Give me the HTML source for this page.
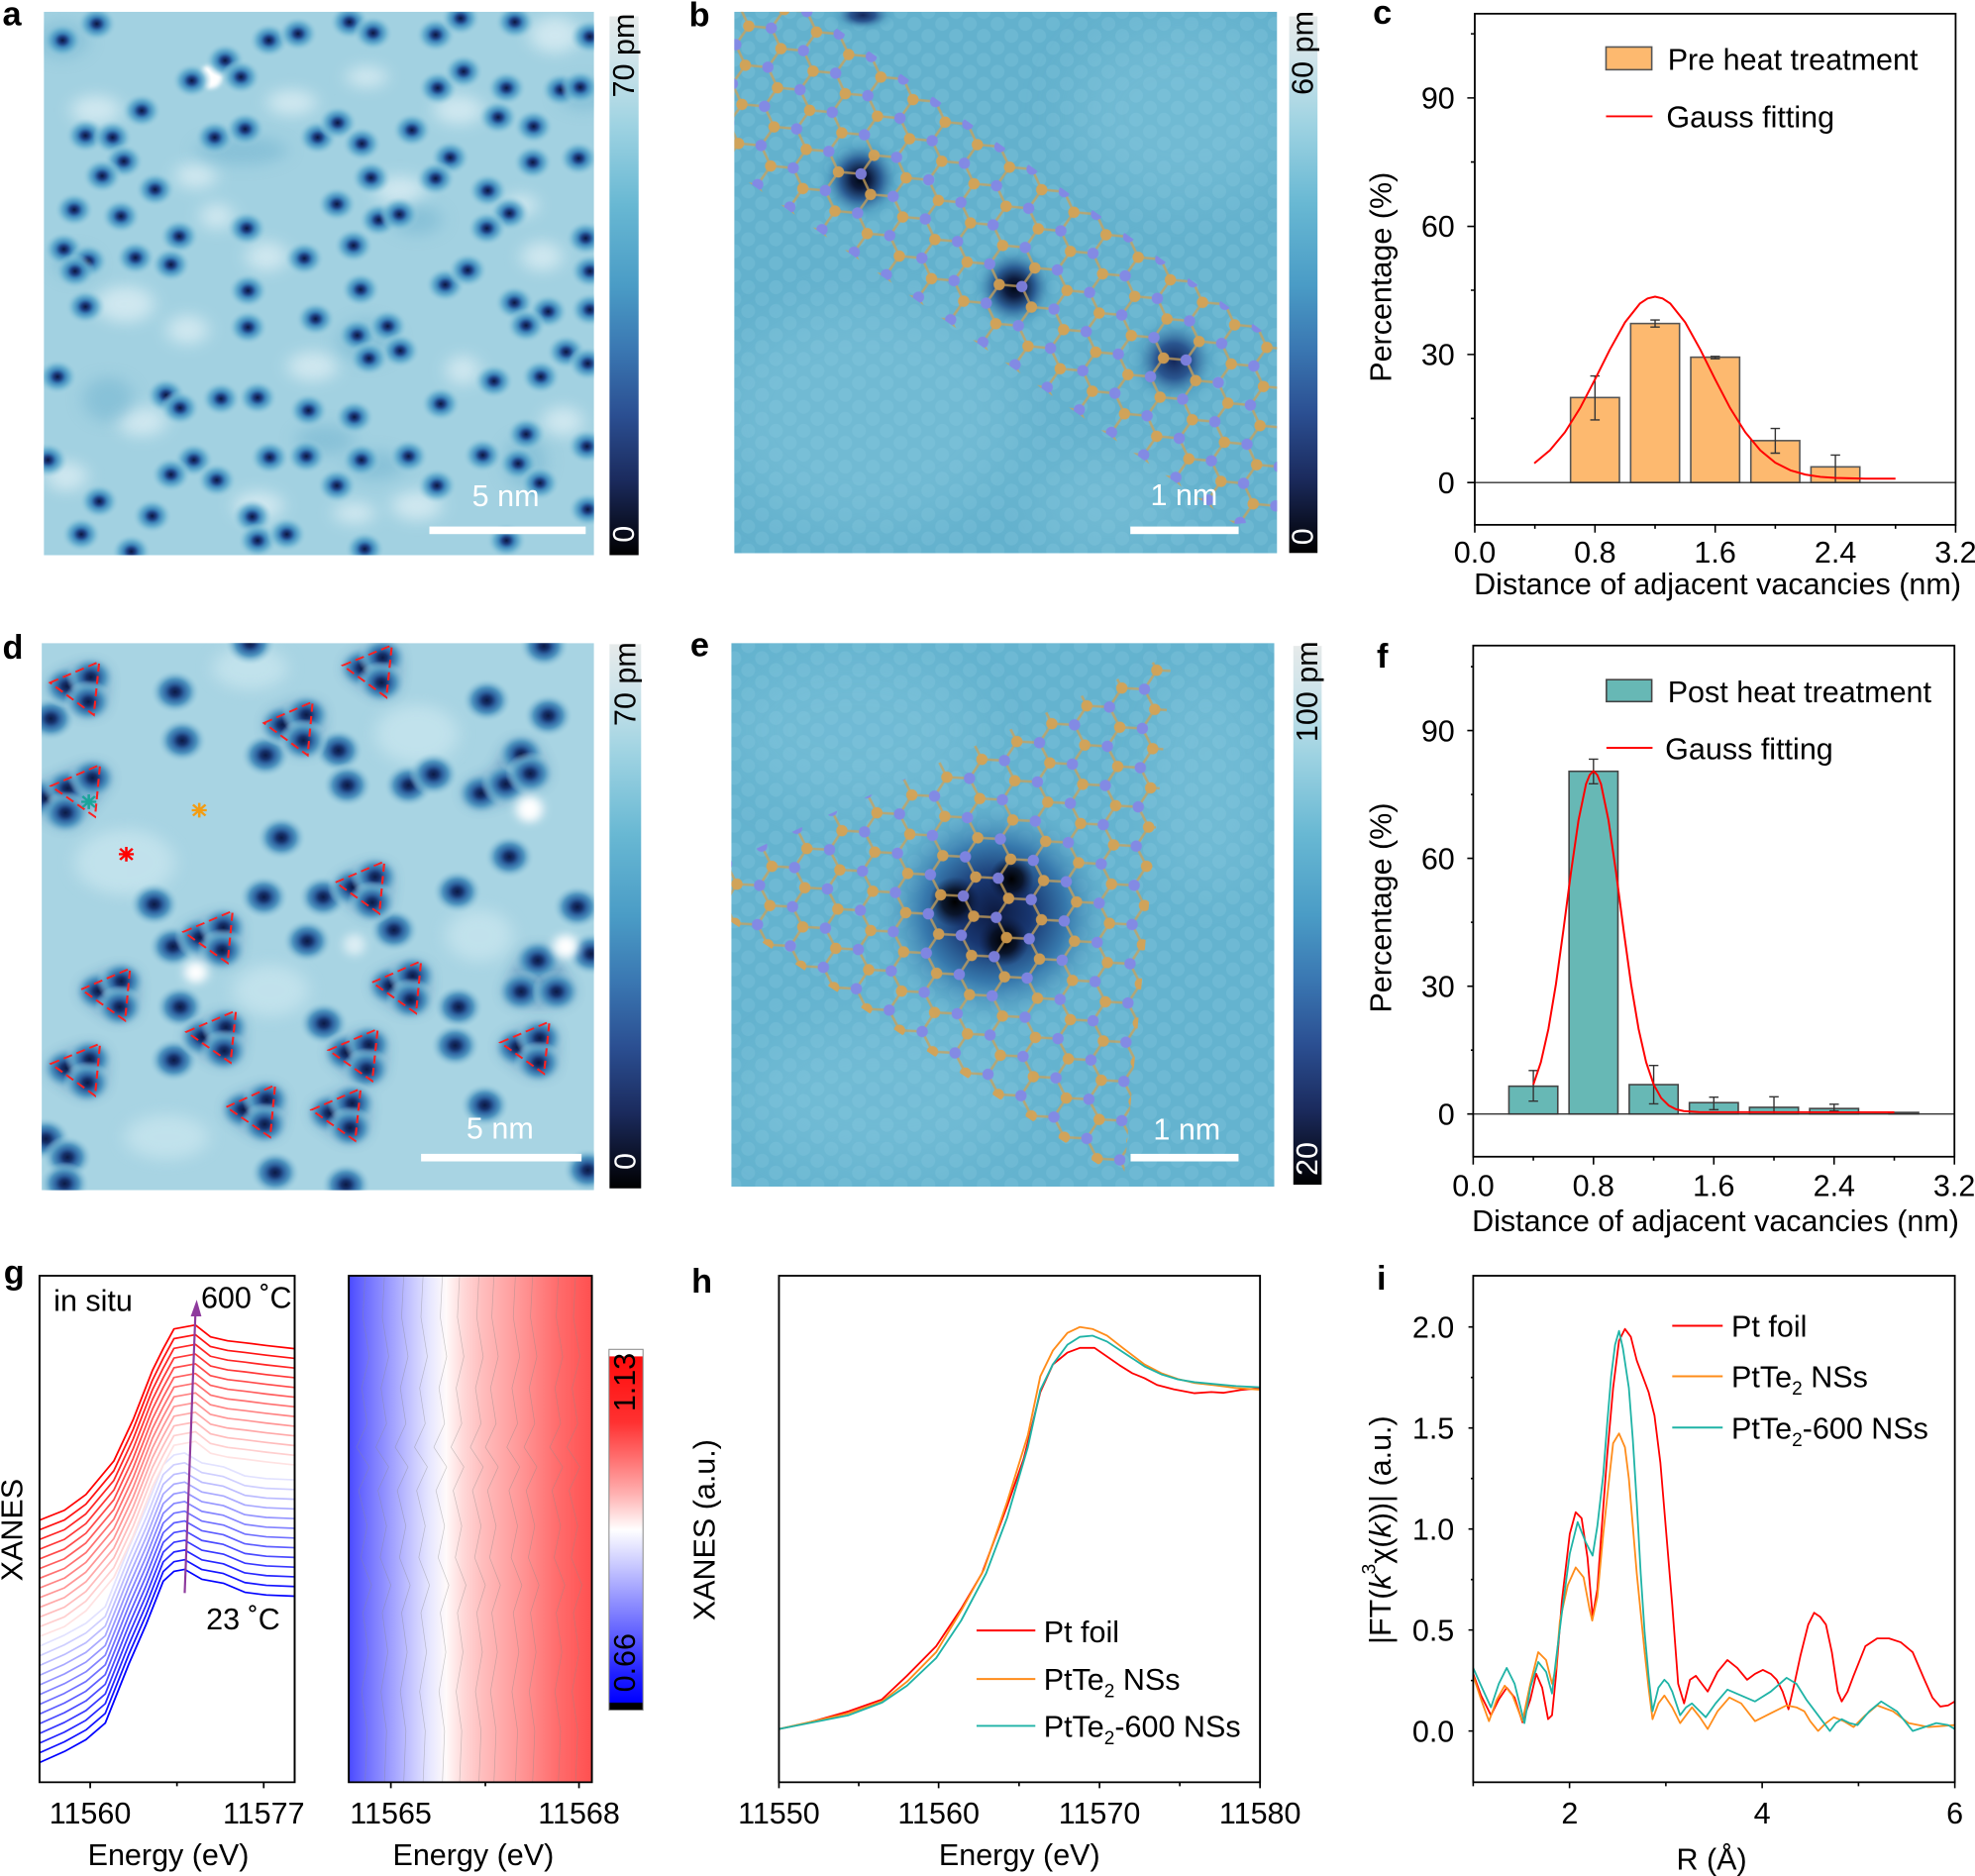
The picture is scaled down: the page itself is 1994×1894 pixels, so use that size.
<!DOCTYPE html>
<html><head><meta charset="utf-8"><style>
html,body{margin:0;padding:0;background:#fff}
svg{display:block}
.t{font-size:24px;fill:#000}
.w{font-size:24px;fill:#fff}
.L{font-size:27px;font-weight:bold;fill:#000}
</style></head><body>
<svg xmlns="http://www.w3.org/2000/svg" width="1994" height="1894" viewBox="0 0 1568 1489.3" preserveAspectRatio="none" font-family="'Liberation Sans', Arial, sans-serif">
<defs>
<filter id="bl20" x="-20%" y="-20%" width="140%" height="140%"><feGaussianBlur stdDeviation="20"/></filter>
<filter id="bl12" x="-30%" y="-30%" width="160%" height="160%"><feGaussianBlur stdDeviation="12"/></filter>
<filter id="bl6" x="-30%" y="-30%" width="160%" height="160%"><feGaussianBlur stdDeviation="6"/></filter>
<radialGradient id="ga"><stop offset="0" stop-color="#0b1640"/><stop offset="0.2" stop-color="#1d3f82"/><stop offset="0.38" stop-color="#3b82b8"/><stop offset="0.62" stop-color="#5eaacd" stop-opacity="0.8"/><stop offset="1" stop-color="#a3d2e2" stop-opacity="0"/></radialGradient>
<radialGradient id="gd"><stop offset="0" stop-color="#0b1a45"/><stop offset="0.18" stop-color="#15306a"/><stop offset="0.36" stop-color="#2d63a0"/><stop offset="0.58" stop-color="#4f95c0"/><stop offset="0.8" stop-color="#7fb9d4" stop-opacity="0.5"/><stop offset="1" stop-color="#a8d4e3" stop-opacity="0"/></radialGradient>
<radialGradient id="gb"><stop offset="0" stop-color="#000814"/><stop offset="0.2" stop-color="#0c1a3c"/><stop offset="0.45" stop-color="#2a5c93"/><stop offset="0.75" stop-color="#4d9cc0" stop-opacity="0.5"/><stop offset="1" stop-color="#63b1cd" stop-opacity="0"/></radialGradient>
<radialGradient id="gb2"><stop offset="0" stop-color="#14275a"/><stop offset="0.35" stop-color="#2a5690"/><stop offset="0.7" stop-color="#4d9cc0" stop-opacity="0.5"/><stop offset="1" stop-color="#63b1cd" stop-opacity="0"/></radialGradient>
<radialGradient id="ge"><stop offset="0" stop-color="#0d1a40"/><stop offset="0.3" stop-color="#183670"/><stop offset="0.6" stop-color="#3779ad"/><stop offset="1" stop-color="#64b2ce" stop-opacity="0"/></radialGradient>
<radialGradient id="gk"><stop offset="0" stop-color="#000"/><stop offset="0.5" stop-color="#050a18" stop-opacity="0.8"/><stop offset="1" stop-color="#0d1a40" stop-opacity="0"/></radialGradient>
<linearGradient id="cbar" x1="0" y1="0" x2="0" y2="1">
<stop offset="0" stop-color="#e6eaea"/><stop offset="0.08" stop-color="#cfe4ea"/><stop offset="0.2" stop-color="#9fd3e2"/><stop offset="0.35" stop-color="#68b8d3"/><stop offset="0.5" stop-color="#4a9cc6"/><stop offset="0.62" stop-color="#3a77b2"/><stop offset="0.74" stop-color="#2b4f92"/><stop offset="0.86" stop-color="#1b2b5e"/><stop offset="0.95" stop-color="#0a0f22"/><stop offset="1" stop-color="#000"/></linearGradient>
<linearGradient id="cmap" x1="0" y1="0" x2="1" y2="0">
<stop offset="0" stop-color="#4a4aff"/><stop offset="0.06" stop-color="#6a6aff"/><stop offset="0.155" stop-color="#9595ff"/><stop offset="0.24" stop-color="#bebeff"/><stop offset="0.33" stop-color="#e6e6ff"/><stop offset="0.4" stop-color="#fffafa"/><stop offset="0.47" stop-color="#ffd8d8"/><stop offset="0.55" stop-color="#ffbdbd"/><stop offset="0.69" stop-color="#ff9b9b"/><stop offset="0.86" stop-color="#ff6c6c"/><stop offset="1" stop-color="#ff5050"/></linearGradient>
<linearGradient id="cb2" x1="0" y1="0" x2="0" y2="1">
<stop offset="0" stop-color="#fff"/><stop offset="0.018" stop-color="#fff"/><stop offset="0.021" stop-color="#ff0c0c"/><stop offset="0.2" stop-color="#ff3030"/><stop offset="0.3" stop-color="#ff6e6e"/><stop offset="0.4" stop-color="#ffb0b0"/><stop offset="0.5" stop-color="#fff"/><stop offset="0.6" stop-color="#c8c8ff"/><stop offset="0.7" stop-color="#9090ff"/><stop offset="0.8" stop-color="#5a5aff"/><stop offset="0.9" stop-color="#2020ff"/><stop offset="0.978" stop-color="#0000ff"/><stop offset="0.981" stop-color="#000"/><stop offset="1" stop-color="#000"/></linearGradient>
<pattern id="spots" patternUnits="userSpaceOnUse" width="22" height="19">
<circle cx="0" cy="0" r="5.5" fill="#96d3e5" opacity="0.2"/><circle cx="22" cy="0" r="5.5" fill="#96d3e5" opacity="0.2"/><circle cx="11" cy="9.5" r="5.5" fill="#96d3e5" opacity="0.2"/><circle cx="0" cy="19" r="5.5" fill="#96d3e5" opacity="0.2"/><circle cx="22" cy="19" r="5.5" fill="#96d3e5" opacity="0.2"/></pattern>
<pattern id="hexB" patternUnits="userSpaceOnUse" width="54" height="31.177" patternTransform="rotate(5)">
<path d="M0,0H18L27,15.588L18,31.177M27,15.588H45L54,0M45,15.588L54,31.177M0,31.177H18" stroke="#c9a15a" stroke-width="2" fill="none" opacity="0.85"/>
<g fill="#dca14c"><circle cx="0" cy="0" r="4.5"/><circle cx="54" cy="0" r="4.5"/><circle cx="0" cy="31.177" r="4.5"/><circle cx="54" cy="31.177" r="4.5"/><circle cx="27" cy="15.588" r="4.5"/></g>
<g fill="#8585e6"><circle cx="18" cy="0" r="4.5"/><circle cx="18" cy="31.177" r="4.5"/><circle cx="45" cy="15.588" r="4.5"/></g></pattern>
<pattern id="hexE" patternUnits="userSpaceOnUse" width="54" height="31.177" patternTransform="rotate(3)">
<path d="M0,0H18L27,15.588L18,31.177M27,15.588H45L54,0M45,15.588L54,31.177M0,31.177H18" stroke="#c9a15a" stroke-width="2" fill="none" opacity="0.85"/>
<g fill="#dca14c"><circle cx="0" cy="0" r="4.5"/><circle cx="54" cy="0" r="4.5"/><circle cx="0" cy="31.177" r="4.5"/><circle cx="54" cy="31.177" r="4.5"/><circle cx="27" cy="15.588" r="4.5"/></g>
<g fill="#8585e6"><circle cx="18" cy="0" r="4.5"/><circle cx="18" cy="31.177" r="4.5"/><circle cx="45" cy="15.588" r="4.5"/></g></pattern>
<circle id="dA" r="48" fill="url(#ga)"/>
<circle id="dD" r="60" fill="url(#gd)"/>
<path id="cB" d="M92,0 L150,-28 L200,-58 L245,-100 L300,-250 L340,-350 L380,-460 L405,-485 L430,-490 L470,-465 L520,-455 L570,-432 L620,-425 L686,-422" fill="none" stroke-width="4.2" stroke-linejoin="round"/>
<path id="cT" d="M92,0 L150,-25 L200,-65 L265,-150 L310,-255 L355,-380 L380,-435 L405,-485 L455,-495 L490,-465 L530,-455 L570,-450 L620,-443 L686,-435" fill="none" stroke-width="4.2" stroke-linejoin="round"/>
<path id="cl" d="M0,45 L-5,150 L10,250 L-8,330 L5,420 L-20,480 L10,530 L-15,590 L5,680 L-10,760 L15,830 L-5,900 L8,1000 L-8,1100 L5,1200 L0,1330" fill="none" stroke="#8a8a8a" stroke-width="1.6" opacity="0.45"/>
<clipPath id="cA"><rect x="34.8" y="9.3" width="436.8" height="431.4"/></clipPath>
<clipPath id="cBp"><rect x="582.9" y="9.3" width="431" height="429.9"/></clipPath>
<clipPath id="cD"><rect x="33.1" y="510.5" width="438.5" height="434.4"/></clipPath>
<clipPath id="cE"><rect x="580.6" y="510.5" width="431.1" height="431.5"/></clipPath>
<clipPath id="lb"><polygon points="582.9,8.7 644.8,8.7 1015.5,272 1015.5,413.1 980.2,416 582.9,136.7"/></clipPath>
<clipPath id="le"><polygon points="930.5,518.7 892,937.6 537.3,703.4"/></clipPath>
</defs>

<!-- ========== PANEL A ========== -->
<g clip-path="url(#cA)"><g transform="scale(0.33096,0.29092)">
<rect x="105" y="32" width="1320" height="1483" fill="#a2d1e1"/>
<g filter="url(#bl20)" fill="#eef7f9" opacity="0.6">
<ellipse cx="1330" cy="95" rx="60" ry="50"/><ellipse cx="640" cy="700" rx="50" ry="40"/><ellipse cx="520" cy="590" rx="40" ry="35"/><ellipse cx="1110" cy="1010" rx="40" ry="40"/><ellipse cx="880" cy="210" rx="50" ry="30"/><ellipse cx="230" cy="300" rx="60" ry="40"/><ellipse cx="960" cy="520" rx="60" ry="40"/><ellipse cx="300" cy="830" rx="70" ry="50"/><ellipse cx="1000" cy="1380" rx="60" ry="40"/><ellipse cx="160" cy="1300" rx="50" ry="40"/><ellipse cx="1300" cy="700" rx="50" ry="40"/><ellipse cx="750" cy="1000" rx="60" ry="40"/><ellipse cx="470" cy="480" rx="50" ry="35"/><ellipse cx="1250" cy="560" rx="40" ry="30"/><ellipse cx="1100" cy="300" rx="60" ry="40"/><ellipse cx="620" cy="1380" rx="60" ry="40"/><ellipse cx="340" cy="1150" rx="60" ry="40"/><ellipse cx="850" cy="1400" rx="50" ry="30"/><ellipse cx="1350" cy="1150" rx="50" ry="40"/><ellipse cx="700" cy="280" rx="60" ry="35"/><ellipse cx="450" cy="900" rx="50" ry="40"/>
</g>
<g filter="url(#bl20)" fill="#6fb2cf" opacity="0.5">
<ellipse cx="150" cy="110" rx="60" ry="50"/><ellipse cx="580" cy="410" rx="110" ry="40"/><ellipse cx="180" cy="720" rx="50" ry="40"/><ellipse cx="260" cy="1090" rx="60" ry="60"/><ellipse cx="900" cy="1270" rx="70" ry="40"/><ellipse cx="1400" cy="260" rx="60" ry="40"/><ellipse cx="1260" cy="1260" rx="50" ry="70"/><ellipse cx="1000" cy="600" rx="60" ry="40"/><ellipse cx="780" cy="1200" rx="70" ry="40"/><ellipse cx="880" cy="930" rx="70" ry="60"/>
</g>
<ellipse cx="505" cy="210" rx="28" ry="32" fill="#ffffff" filter="url(#bl6)"/>
<g>
<use href="#dA" x="232" y="65"/><use href="#dA" x="150" y="110"/><use href="#dA" x="645" y="110"/><use href="#dA" x="715" y="92"/><use href="#dA" x="838" y="60"/><use href="#dA" x="895" y="90"/><use href="#dA" x="1045" y="95"/><use href="#dA" x="1105" y="50"/><use href="#dA" x="1235" y="60"/><use href="#dA" x="1415" y="100"/>
<use href="#dA" x="460" y="220"/><use href="#dA" x="540" y="165"/><use href="#dA" x="578" y="210"/><use href="#dA" x="1050" y="240"/><use href="#dA" x="1112" y="195"/><use href="#dA" x="1215" y="240"/><use href="#dA" x="1345" y="245"/><use href="#dA" x="1392" y="238"/>
<use href="#dA" x="340" y="302"/><use href="#dA" x="205" y="370"/><use href="#dA" x="270" y="375"/><use href="#dA" x="515" y="375"/><use href="#dA" x="588" y="352"/><use href="#dA" x="762" y="375"/><use href="#dA" x="810" y="335"/><use href="#dA" x="868" y="392"/><use href="#dA" x="988" y="355"/><use href="#dA" x="1195" y="320"/><use href="#dA" x="1280" y="345"/>
<use href="#dA" x="297" y="440"/><use href="#dA" x="1080" y="430"/><use href="#dA" x="1278" y="443"/><use href="#dA" x="1388" y="432"/>
<use href="#dA" x="245" y="480"/><use href="#dA" x="372" y="517"/><use href="#dA" x="890" y="485"/><use href="#dA" x="1045" y="487"/><use href="#dA" x="1170" y="520"/>
<use href="#dA" x="178" y="572"/><use href="#dA" x="290" y="590"/><use href="#dA" x="808" y="557"/><use href="#dA" x="908" y="600"/><use href="#dA" x="958" y="585"/><use href="#dA" x="1222" y="582"/><use href="#dA" x="1168" y="623"/>
<use href="#dA" x="592" y="623"/><use href="#dA" x="430" y="645"/><use href="#dA" x="1405" y="650"/>
<use href="#dA" x="153" y="680"/><use href="#dA" x="212" y="712"/><use href="#dA" x="325" y="703"/><use href="#dA" x="410" y="722"/><use href="#dA" x="180" y="740"/><use href="#dA" x="730" y="705"/><use href="#dA" x="848" y="670"/>
<use href="#dA" x="1068" y="777"/><use href="#dA" x="1122" y="737"/><use href="#dA" x="1415" y="740"/>
<use href="#dA" x="595" y="793"/><use href="#dA" x="865" y="790"/>
<use href="#dA" x="205" y="837"/><use href="#dA" x="1234" y="826"/><use href="#dA" x="1315" y="850"/><use href="#dA" x="1415" y="845"/>
<use href="#dA" x="757" y="870"/><use href="#dA" x="1262" y="888"/><use href="#dA" x="595" y="893"/>
<use href="#dA" x="857" y="915"/><use href="#dA" x="930" y="890"/><use href="#dA" x="960" y="957"/><use href="#dA" x="885" y="978"/><use href="#dA" x="1358" y="960"/><use href="#dA" x="1410" y="992"/>
<use href="#dA" x="138" y="1028"/><use href="#dA" x="1185" y="1040"/><use href="#dA" x="1297" y="1028"/>
<use href="#dA" x="398" y="1078"/><use href="#dA" x="432" y="1113"/><use href="#dA" x="530" y="1088"/><use href="#dA" x="618" y="1085"/><use href="#dA" x="740" y="1120"/><use href="#dA" x="850" y="1138"/><use href="#dA" x="1057" y="1102"/>
<use href="#dA" x="1262" y="1185"/><use href="#dA" x="1408" y="1218"/><use href="#dA" x="115" y="1255"/><use href="#dA" x="465" y="1255"/><use href="#dA" x="647" y="1248"/><use href="#dA" x="735" y="1245"/><use href="#dA" x="867" y="1255"/><use href="#dA" x="980" y="1245"/><use href="#dA" x="1158" y="1242"/><use href="#dA" x="1243" y="1265"/>
<use href="#dA" x="410" y="1295"/><use href="#dA" x="520" y="1310"/><use href="#dA" x="808" y="1325"/><use href="#dA" x="1048" y="1325"/><use href="#dA" x="1295" y="1318"/>
<use href="#dA" x="238" y="1368"/><use href="#dA" x="365" y="1408"/><use href="#dA" x="605" y="1410"/><use href="#dA" x="1410" y="1390"/>
<use href="#dA" x="195" y="1458"/><use href="#dA" x="618" y="1475"/><use href="#dA" x="688" y="1458"/><use href="#dA" x="875" y="1498"/><use href="#dA" x="1215" y="1475"/><use href="#dA" x="315" y="1505"/>
</g>
</g></g>
<rect x="340.9" y="418" width="124.1" height="6" fill="#fff"/>
<text class="w" x="401.5" y="402" text-anchor="middle">5 nm</text>
<rect x="483.9" y="13" width="23.1" height="427.7" fill="url(#cbar)"/>
<text class="t" transform="translate(495.5,44) rotate(-90)" text-anchor="middle" dominant-baseline="central">70 pm</text>
<text class="w" transform="translate(495.5,424) rotate(-90)" text-anchor="middle" dominant-baseline="central">0</text>
<text class="L" x="2" y="20">a</text>

<!-- ========== PANEL B ========== -->
<g clip-path="url(#cBp)">
<rect x="582.9" y="9.3" width="431" height="429.9" fill="#63b1cd"/>
<g filter="url(#bl20)" opacity="0.4" fill="#86c8dd"><ellipse cx="690" cy="330" rx="120" ry="90"/><ellipse cx="940" cy="90" rx="90" ry="70"/><ellipse cx="880" cy="400" rx="60" ry="40"/></g>
<rect x="582.9" y="9.3" width="431" height="429.9" fill="url(#spots)"/>
<ellipse cx="685" cy="12" rx="28" ry="14" fill="url(#gb2)"/>
<circle cx="683.3" cy="142.5" r="36" fill="url(#gb)"/>
<circle cx="805.3" cy="228.4" r="36" fill="url(#gb)"/>
<circle cx="932.1" cy="286.5" r="40" fill="url(#gb2)"/>
<rect x="560" y="0" width="470" height="450" fill="url(#hexB)" clip-path="url(#lb)" opacity="0.9"/>
</g>
<rect x="897.4" y="418" width="86" height="6" fill="#fff"/>
<text class="w" x="940" y="401" text-anchor="middle">1 nm</text>
<rect x="1023.5" y="13" width="22.5" height="426" fill="url(#cbar)"/>
<text class="t" transform="translate(1034.5,42) rotate(-90)" text-anchor="middle" dominant-baseline="central">60 pm</text>
<text class="w" transform="translate(1034.5,426) rotate(-90)" text-anchor="middle" dominant-baseline="central">0</text>
<text class="L" x="547" y="21">b</text>

<!-- ========== PANEL C ========== -->
<g transform="translate(1077.3,0) scale(0.31291,0.31093)">
<g fill="#fdb96f" stroke="#555" stroke-width="4">
<rect x="542" y="1015" width="124" height="217"/><rect x="694.5" y="826" width="124" height="406"/><rect x="847" y="912" width="124" height="320"/><rect x="999.5" y="1125" width="124" height="107"/><rect x="1152" y="1192" width="124" height="40"/>
</g>
<path d="M592,960H616M604,960V1072M592,1072H616 M744.5,817H768.5M756.5,817V835M744.5,835H768.5 M897,910H921M909,910V916M897,916H921 M1049.5,1094H1073.5M1061.5,1094V1157M1049.5,1157H1073.5 M1202,1162H1226M1214,1162V1232" stroke="#333" stroke-width="3.5" fill="none"/>
<line x1="280" y1="1232" x2="1519" y2="1232" stroke="#333" stroke-width="3.5"/>
<polyline points="450,1183 489.6,1149.8 527.8,1103.6 565.9,1042.3 604,968.8 642.1,891.9 680.3,822.8 718.4,774.6 737.5,762 756.5,757.4 775.5,762 794.6,774.6 832.8,822.8 870.9,891.9 909,968.8 947.1,1042.3 985.3,1103.6 1023.4,1149.8 1061.5,1181.3 1099.6,1200.7 1137.8,1211.7 1175.9,1217.5 1214,1220.2 1290,1222 1366.5,1222" fill="none" stroke="#ff0000" stroke-width="5" stroke-linejoin="round"/>
<rect x="299" y="35" width="1220" height="1305" fill="none" stroke="#000" stroke-width="4.5"/>
<path d="M280,250H299M280,578H299M280,905H299M280,1232H299M289,1068.3H299M289,741H299M289,413.7H299M289,86.3H299M299,1340V1360M604,1340V1360M909,1340V1360M1214,1340V1360M1519,1340V1360M451.5,1340V1350M756.5,1340V1350M1061.5,1340V1350M1366.5,1340V1350" stroke="#000" stroke-width="4"/>
<rect x="632" y="120" width="116" height="58" fill="#fdb96f" stroke="#555" stroke-width="4"/>
<line x1="632" y1="297" x2="750" y2="297" stroke="#ff0000" stroke-width="5"/>
</g>
<text class="t" x="1324" y="55.5">Pre heat treatment</text>
<text class="t" x="1323" y="101">Gauss fitting</text>
<g class="t" text-anchor="end"><text x="1155" y="391.7">0</text><text x="1155" y="289.9">30</text><text x="1155" y="188.1">60</text><text x="1155" y="86.3">90</text></g>
<g class="t" text-anchor="middle"><text x="1170.9" y="446.5">0.0</text><text x="1266.3" y="446.5">0.8</text><text x="1361.7" y="446.5">1.6</text><text x="1457.2" y="446.5">2.4</text><text x="1552.6" y="446.5">3.2</text></g>
<text class="t" x="1363.6" y="472" text-anchor="middle">Distance of adjacent vacancies (nm)</text>
<text class="t" transform="translate(1096.5,220) rotate(-90)" text-anchor="middle" dominant-baseline="central">Percentage (%)</text>
<text class="L" x="1090" y="19">c</text>

<!-- ========== PANEL D ========== -->
<g clip-path="url(#cD)"><g transform="translate(0,495.4) scale(0.33096,0.29092)">
<rect x="100" y="52" width="1325" height="1493" fill="#a8d4e3"/>
<g filter="url(#bl20)" fill="#d2ebf2" opacity="0.6"><ellipse cx="300" cy="650" rx="120" ry="90"/><ellipse cx="1000" cy="300" rx="100" ry="80"/><ellipse cx="650" cy="1000" rx="90" ry="70"/><ellipse cx="1150" cy="850" rx="80" ry="70"/><ellipse cx="400" cy="1400" rx="100" ry="60"/><ellipse cx="600" cy="120" rx="90" ry="60"/></g>
<g fill="#2f68a3" stroke="#2f68a3" stroke-width="60" stroke-linejoin="round" filter="url(#bl20)" opacity="0.85">
<polygon points="160,170 218,145 212,212"/><polygon points="868,120 918,92 915,160"/><polygon points="677,275 735,248 728,318"/><polygon points="162,448 222,420 157,515 110,475"/><polygon points="845,718 900,690 893,760"/><polygon points="478,855 536,828 533,890"/><polygon points="235,1002 291,975 287,1045"/><polygon points="935,987 990,960 985,1025"/><polygon points="485,1127 542,1100 538,1165"/><polygon points="158,1212 215,1187 210,1252"/><polygon points="830,1170 885,1148 880,1215"/><polygon points="1240,1155 1295,1130 1292,1197"/><polygon points="583,1325 640,1298 635,1365"/><polygon points="790,1335 845,1308 840,1375"/><polygon points="1153,462 1213,437 1250,355 1272,408"/><polygon points="1250,1003 1335,1003 1290,918"/>
</g>
<g>
<use href="#dD" x="122" y="258"/><use href="#dD" x="420" y="185"/><use href="#dD" x="437" y="318"/><use href="#dD" x="637" y="358"/><use href="#dD" x="812" y="345"/><use href="#dD" x="833" y="440"/><use href="#dD" x="980" y="440"/><use href="#dD" x="1040" y="410"/><use href="#dD" x="1153" y="462"/><use href="#dD" x="1213" y="437"/><use href="#dD" x="1250" y="355"/><use href="#dD" x="1272" y="408"/><use href="#dD" x="1168" y="208"/><use href="#dD" x="1315" y="250"/><use href="#dD" x="675" y="583"/><use href="#dD" x="1222" y="635"/><use href="#dD" x="370" y="765"/><use href="#dD" x="633" y="745"/><use href="#dD" x="775" y="745"/><use href="#dD" x="1097" y="730"/><use href="#dD" x="1385" y="772"/><use href="#dD" x="945" y="835"/><use href="#dD" x="737" y="865"/><use href="#dD" x="415" y="880"/><use href="#dD" x="1290" y="918"/><use href="#dD" x="1250" y="1003"/><use href="#dD" x="1335" y="1003"/><use href="#dD" x="1100" y="1045"/><use href="#dD" x="432" y="1045"/><use href="#dD" x="777" y="1090"/><use href="#dD" x="1092" y="1150"/><use href="#dD" x="417" y="1190"/><use href="#dD" x="1163" y="1313"/><use href="#dD" x="660" y="1497"/><use href="#dD" x="110" y="1405"/><use href="#dD" x="162" y="1455"/><use href="#dD" x="155" y="1527"/><use href="#dD" x="1410" y="1490"/><use href="#dD" x="1305" y="60"/><use href="#dD" x="110" y="475"/><use href="#dD" x="1418" y="900"/><use href="#dD" x="830" y="1530"/><use href="#dD" x="600" y="52"/>
<use href="#dD" x="160" y="170"/><use href="#dD" x="218" y="145"/><use href="#dD" x="212" y="212"/>
<use href="#dD" x="868" y="120"/><use href="#dD" x="918" y="92"/><use href="#dD" x="915" y="160"/>
<use href="#dD" x="677" y="275"/><use href="#dD" x="735" y="248"/><use href="#dD" x="728" y="318"/>
<use href="#dD" x="162" y="448"/><use href="#dD" x="222" y="420"/><use href="#dD" x="157" y="515"/>
<use href="#dD" x="845" y="718"/><use href="#dD" x="900" y="690"/><use href="#dD" x="893" y="760"/>
<use href="#dD" x="478" y="855"/><use href="#dD" x="536" y="828"/><use href="#dD" x="533" y="890"/>
<use href="#dD" x="235" y="1002"/><use href="#dD" x="291" y="975"/><use href="#dD" x="287" y="1045"/>
<use href="#dD" x="935" y="987"/><use href="#dD" x="990" y="960"/><use href="#dD" x="985" y="1025"/>
<use href="#dD" x="485" y="1127"/><use href="#dD" x="542" y="1100"/><use href="#dD" x="538" y="1165"/>
<use href="#dD" x="158" y="1212"/><use href="#dD" x="215" y="1187"/><use href="#dD" x="210" y="1252"/>
<use href="#dD" x="830" y="1170"/><use href="#dD" x="885" y="1148"/><use href="#dD" x="880" y="1215"/>
<use href="#dD" x="1240" y="1155"/><use href="#dD" x="1295" y="1130"/><use href="#dD" x="1292" y="1197"/>
<use href="#dD" x="583" y="1325"/><use href="#dD" x="640" y="1298"/><use href="#dD" x="635" y="1365"/>
<use href="#dD" x="790" y="1335"/><use href="#dD" x="845" y="1308"/><use href="#dD" x="840" y="1375"/>
</g>
<g fill="#ffffff" filter="url(#bl12)"><ellipse cx="1270" cy="505" rx="32" ry="36"/><ellipse cx="470" cy="950" rx="28" ry="30"/><ellipse cx="1357" cy="880" rx="30" ry="32"/><ellipse cx="850" cy="875" rx="26" ry="30" opacity="0.6"/></g>
<g fill="none" stroke="#ff2020" stroke-width="5" stroke-dasharray="22 12">
<polygon points="120,160 238,103 225,248"/><polygon points="822,113 940,58 927,200"/><polygon points="633,270 750,212 738,358"/><polygon points="122,442 240,384 228,526"/><polygon points="805,705 922,648 910,790"/><polygon points="440,840 558,783 546,925"/><polygon points="195,997 312,940 300,1082"/><polygon points="893,978 1010,920 998,1062"/><polygon points="447,1113 566,1055 553,1197"/><polygon points="122,1200 240,1145 228,1287"/><polygon points="788,1163 906,1105 893,1247"/><polygon points="1200,1142 1318,1085 1305,1227"/><polygon points="543,1318 660,1258 648,1400"/><polygon points="747,1326 865,1268 852,1410"/>
</g>
<g stroke-width="6" fill="none">
<path d="M198,470L228,500M198,500L228,470M213,465V505M195,485H231" stroke="#1aa59a"/>
<path d="M463,493L493,523M463,523L493,493M478,488V528M460,508H496" stroke="#f39c12"/>
<path d="M288,613L318,643M288,643L318,613M303,608V648M285,628H321" stroke="#ff0000"/>
</g>
</g></g>
<rect x="334.3" y="916" width="127.4" height="6" fill="#fff"/>
<text class="w" x="397" y="904" text-anchor="middle">5 nm</text>
<rect x="483.9" y="511.4" width="25.1" height="432" fill="url(#cbar)"/>
<text class="t" transform="translate(496.5,543) rotate(-90)" text-anchor="middle" dominant-baseline="central">70 pm</text>
<text class="w" transform="translate(496.5,922) rotate(-90)" text-anchor="middle" dominant-baseline="central">0</text>
<text class="L" x="2" y="523">d</text>

<!-- ========== PANEL E ========== -->
<g clip-path="url(#cE)">
<rect x="580.6" y="510.5" width="431.1" height="431.5" fill="#64b3cf"/>
<g filter="url(#bl20)" opacity="0.35" fill="#88c9de"><ellipse cx="680" cy="580" rx="100" ry="60"/><ellipse cx="700" cy="870" rx="110" ry="60"/><ellipse cx="960" cy="620" rx="50" ry="90"/></g>
<rect x="580.6" y="510.5" width="431.1" height="431.5" fill="url(#spots)"/>
<ellipse cx="790" cy="725" rx="95" ry="92" fill="url(#ge)"/>
<circle cx="758" cy="716" r="20" fill="url(#gk)"/>
<circle cx="797" cy="747" r="20" fill="url(#gk)"/>
<circle cx="803" cy="698" r="18" fill="url(#gk)"/>
<rect x="530" y="500" width="490" height="450" fill="url(#hexE)" clip-path="url(#le)" opacity="0.9"/>
</g>
<rect x="897.6" y="916" width="85.7" height="6" fill="#fff"/>
<text class="w" x="942.3" y="904.7" text-anchor="middle">1 nm</text>
<rect x="1026.8" y="512.8" width="22.5" height="427.7" fill="url(#cbar)"/>
<text class="t" transform="translate(1038,549) rotate(-90)" text-anchor="middle" dominant-baseline="central">100 pm</text>
<text class="w" transform="translate(1038,920) rotate(-90)" text-anchor="middle" dominant-baseline="central">20</text>
<text class="L" x="548" y="521">e</text>

<!-- ========== PANEL F ========== -->
<g transform="translate(1077.3,495.4) scale(0.31291,0.31093)">
<g fill="#67b8b5" stroke="#444" stroke-width="4">
<rect x="385.6" y="1180" width="124" height="71"/><rect x="538.2" y="376" width="124" height="875"/><rect x="690.9" y="1176" width="124" height="75"/><rect x="843.5" y="1222" width="124" height="29"/><rect x="996.1" y="1234" width="124" height="17"/><rect x="1148.7" y="1237" width="124" height="14"/><rect x="1350" y="1247" width="75" height="4"/>
</g>
<path d="M435.6,1140H459.6M447.6,1140V1218M435.6,1218H459.6 M588.2,345H612.2M600.2,345V408M588.2,408H612.2 M740.9,1127H764.9M752.9,1127V1225M740.9,1225H764.9 M893.5,1208H917.5M905.5,1208V1240M893.5,1240H917.5 M1046.1,1207H1070.1M1058.1,1207V1251 M1198.7,1226H1222.7M1210.7,1226V1243M1198.7,1243H1222.7" stroke="#333" stroke-width="3.5" fill="none"/>
<line x1="280" y1="1251" x2="1516" y2="1251" stroke="#333" stroke-width="3.5"/>
<polyline points="447.6,1175.7 466.7,1118.9 485.8,1034.1 504.9,919.7 523.9,781.2 543,634.3 562.1,501.6 581.2,408.8 590.7,385 600.2,375.3 609.7,385 619.3,408.8 638.4,501.6 657.5,634.3 676.6,781.2 695.6,919.7 714.7,1034.1 733.8,1118.9 752.9,1175.7 771.9,1210.2 791,1229.2 810.1,1239 829.2,1243.6 867.3,1246.1 1363.4,1246.6" fill="none" stroke="#ff0000" stroke-width="5" stroke-linejoin="round"/>
<rect x="295" y="55" width="1221" height="1305" fill="none" stroke="#000" stroke-width="4.5"/>
<path d="M280,272H295M280,598.3H295M280,924.7H295M280,1251H295M289,108.8H295M289,435.2H295M289,761.5H295M289,1087.8H295M295,1360V1380M600.2,1360V1380M905.5,1360V1380M1210.7,1360V1380M1516,1360V1380M447.6,1360V1370M752.9,1360V1370M1058.1,1360V1370M1363.4,1360V1370" stroke="#000" stroke-width="4"/>
<rect x="633" y="142" width="115" height="56" fill="#67b8b5" stroke="#444" stroke-width="4"/>
<line x1="633" y1="316" x2="750" y2="316" stroke="#ff0000" stroke-width="5"/>
</g>
<text class="t" x="1324" y="557.5">Post heat treatment</text>
<text class="t" x="1322" y="602.7">Gauss fitting</text>
<g class="t" text-anchor="end"><text x="1155" y="893">0</text><text x="1155" y="791.5">30</text><text x="1155" y="690">60</text><text x="1155" y="588.6">90</text></g>
<g class="t" text-anchor="middle"><text x="1169.7" y="949.4">0.0</text><text x="1265.1" y="949.4">0.8</text><text x="1360.6" y="949.4">1.6</text><text x="1456.2" y="949.4">2.4</text><text x="1551.6" y="949.4">3.2</text></g>
<text class="t" x="1362" y="977.5" text-anchor="middle">Distance of adjacent vacancies (nm)</text>
<text class="t" transform="translate(1096.5,720.7) rotate(-90)" text-anchor="middle" dominant-baseline="central">Percentage (%)</text>
<text class="L" x="1093" y="530">f</text>

<!-- ========== PANEL G ========== -->
<g transform="translate(0,998.7) scale(0.34101,0.31291)">
<rect x="812" y="45" width="566" height="1285" fill="url(#cmap)"/>
<use href="#cl" x="850"/><use href="#cl" x="895"/><use href="#cl" x="940"/><use href="#cl" x="985"/><use href="#cl" x="1030"/><use href="#cl" x="1070"/><use href="#cl" x="1115"/><use href="#cl" x="1150"/><use href="#cl" x="1200"/><use href="#cl" x="1240"/><use href="#cl" x="1300"/><use href="#cl" x="1340"/>
<rect x="812" y="45" width="566" height="1285" fill="none" stroke="#000" stroke-width="4.5"/>
<g>
<use href="#cB" y="1280" stroke="rgb(0,0,255)"/>
<use href="#cB" y="1255.4" stroke="rgb(19,19,255)"/>
<use href="#cB" y="1230.8" stroke="rgb(38,38,255)"/>
<use href="#cB" y="1206.2" stroke="rgb(56,56,255)"/>
<use href="#cB" y="1181.6" stroke="rgb(75,75,255)"/>
<use href="#cB" y="1157" stroke="rgb(94,94,255)"/>
<use href="#cB" y="1132.4" stroke="rgb(113,113,255)"/>
<use href="#cB" y="1107.8" stroke="rgb(132,132,255)"/>
<use href="#cB" y="1083.2" stroke="rgb(150,150,255)"/>
<use href="#cB" y="1058.6" stroke="rgb(169,169,255)"/>
<use href="#cB" y="1034" stroke="rgb(188,188,255)"/>
<use href="#cB" y="1009.4" stroke="rgb(207,207,255)"/>
<use href="#cB" y="984.8" stroke="rgb(226,226,255)"/>
<use href="#cT" y="960.2" stroke="rgb(255,226,226)"/>
<use href="#cT" y="935.6" stroke="rgb(255,207,207)"/>
<use href="#cT" y="911" stroke="rgb(255,188,188)"/>
<use href="#cT" y="886.4" stroke="rgb(255,169,169)"/>
<use href="#cT" y="861.8" stroke="rgb(255,150,150)"/>
<use href="#cT" y="837.2" stroke="rgb(255,132,132)"/>
<use href="#cT" y="812.6" stroke="rgb(255,113,113)"/>
<use href="#cT" y="788" stroke="rgb(255,94,94)"/>
<use href="#cT" y="763.4" stroke="rgb(255,75,75)"/>
<use href="#cT" y="738.8" stroke="rgb(255,56,56)"/>
<use href="#cT" y="714.2" stroke="rgb(255,38,38)"/>
<use href="#cT" y="689.6" stroke="rgb(255,19,19)"/>
<use href="#cT" y="665" stroke="rgb(255,0,0)"/>
</g>
<line x1="430" y1="850" x2="455" y2="140" stroke="#8e3a9d" stroke-width="5"/>
<polygon points="458,106 444,148 469,148" fill="#8e3a9d"/>
<rect x="92" y="45" width="594" height="1285" fill="none" stroke="#000" stroke-width="4.5"/>
<path d="M210,1330V1345M614,1330V1345M412,1330V1340M910,1330V1345M1348,1330V1345M1130,1330V1340" stroke="#000" stroke-width="4"/>
</g>
<rect x="483.5" y="1071.2" width="27" height="286.4" fill="url(#cb2)" stroke="#888" stroke-width="0.8"/>
<text class="t" transform="translate(496,1097.3) rotate(-90)" text-anchor="middle" dominant-baseline="central">1.13</text>
<text class="t" transform="translate(496,1320) rotate(-90)" text-anchor="middle" dominant-baseline="central">0.66</text>
<text class="t" x="42.6" y="1040.9">in situ</text>
<text class="t" x="159.6" y="1038.4">600 ˚C</text>
<text class="t" x="163.7" y="1293.4">23 ˚C</text>
<text class="t" transform="translate(10,1214.6) rotate(-90)" text-anchor="middle" dominant-baseline="central">XANES</text>
<g class="t" text-anchor="middle"><text x="71.6" y="1447.7">11560</text><text x="209.4" y="1447.7">11577</text><text x="310.3" y="1447.7">11565</text><text x="459.7" y="1447.7">11568</text></g>
<text class="t" x="133.7" y="1480.5" text-anchor="middle">Energy (eV)</text>
<text class="t" x="375.8" y="1480.5" text-anchor="middle">Energy (eV)</text>
<text class="L" x="3" y="1019">g</text>

<!-- ========== PANEL H ========== -->
<g transform="translate(534.7,998.7) scale(0.33096,0.31291)">
<g fill="none" stroke-width="4.5" stroke-linejoin="round">
<polyline stroke="#ff0000" points="253,1195 320,1180 420,1150 500,1120 560,1060 630,985 690,890 740,800 800,630 840,510 880,340 910,270 945,240 975,228 1010,228 1040,250 1070,272 1100,292 1130,305 1160,322 1200,333 1250,343 1290,340 1320,342 1360,335 1407,330"/>
<polyline stroke="#ff8c1a" points="253,1195 420,1155 500,1125 560,1075 630,1000 690,895 745,790 800,620 850,450 880,300 910,235 945,190 975,175 1005,180 1040,197 1080,230 1130,270 1170,292 1210,307 1250,317 1300,323 1350,330 1407,334"/>
<polyline stroke="#1fb3a6" points="253,1195 420,1160 500,1128 560,1085 630,1015 690,920 750,800 800,660 850,480 880,335 910,270 945,220 975,200 1005,197 1040,212 1080,240 1130,275 1170,295 1210,308 1250,315 1300,320 1350,325 1407,328"/>
</g>
<rect x="253" y="45" width="1154" height="1285" fill="none" stroke="#000" stroke-width="4.5"/>
<path d="M253,1330V1345M636,1330V1345M1022,1330V1345M1407,1330V1345M444.4,1330V1340M829,1330V1340M1214.5,1330V1340" stroke="#000" stroke-width="4"/>
<line x1="727" y1="945" x2="868" y2="945" stroke="#ff0000" stroke-width="5"/>
<line x1="727" y1="1068" x2="868" y2="1068" stroke="#ff8c1a" stroke-width="5"/>
<line x1="727" y1="1187" x2="868" y2="1187" stroke="#1fb3a6" stroke-width="5"/>
</g>
<text class="t" x="828.6" y="1303.8">Pt foil</text>
<text class="t" x="828.6" y="1341.3">PtTe<tspan dy="6" font-size="15">2</tspan><tspan dy="-6"> NSs</tspan></text>
<text class="t" x="828.6" y="1378.9">PtTe<tspan dy="6" font-size="15">2</tspan><tspan dy="-6">-600 NSs</tspan></text>
<g class="t" text-anchor="middle"><text x="618.4" y="1447.7">11550</text><text x="745.2" y="1447.7">11560</text><text x="872.9" y="1447.7">11570</text><text x="1000.4" y="1447.7">11580</text></g>
<text class="t" x="809.4" y="1480.5" text-anchor="middle">Energy (eV)</text>
<text class="t" transform="translate(559.6,1214.6) rotate(-90)" text-anchor="middle" dominant-baseline="central">XANES (a.u.)</text>
<text class="L" x="549" y="1026">h</text>

<!-- ========== PANEL I ========== -->
<g transform="translate(1077.3,998.7) scale(0.31291,0.31291)">
<g fill="none" stroke-width="4.5" stroke-linejoin="round">
<polyline stroke="#ff0000" points="295,1055 315,1110 340,1160 360,1120 380,1090 400,1115 420,1178 440,1120 455,1055 470,1090 485,1170 495,1160 505,1060 520,870 540,700 555,645 570,660 585,760 598,910 610,840 620,700 635,500 650,330 665,210 680,180 695,200 710,260 725,300 740,340 755,400 770,520 785,700 800,880 815,1080 830,1130 845,1070 860,1060 875,1080 890,1100 915,1050 940,1020 965,1040 990,1070 1010,1055 1030,1045 1050,1055 1065,1070 1080,1100 1095,1145 1110,1080 1125,1010 1145,930 1160,900 1175,910 1190,930 1205,1000 1220,1100 1230,1125 1245,1100 1260,1060 1290,985 1320,965 1350,965 1380,975 1410,1000 1440,1070 1460,1115 1480,1138 1500,1135 1517,1125"/>
<polyline stroke="#ff8c1a" points="295,1060 315,1120 335,1175 355,1120 375,1085 395,1110 420,1175 440,1080 460,1000 480,1020 495,1080 505,1040 515,920 535,830 555,785 575,810 590,890 597,920 610,860 625,700 640,560 650,470 665,445 680,480 690,560 700,680 710,800 720,900 730,1000 740,1090 750,1170 765,1130 780,1110 800,1140 820,1180 835,1160 850,1140 870,1165 890,1195 915,1150 945,1115 975,1130 1010,1175 1050,1155 1090,1135 1115,1140 1135,1150 1150,1175 1170,1200 1190,1180 1210,1165 1235,1175 1260,1190 1290,1160 1320,1135 1360,1150 1400,1180 1450,1190 1517,1185"/>
<polyline stroke="#1fb3a6" points="295,1040 315,1085 340,1140 360,1080 380,1040 400,1080 425,1180 440,1090 460,1025 480,1050 495,1105 505,1020 520,900 540,750 560,670 580,720 598,755 610,680 625,550 635,420 645,300 655,220 665,185 675,230 690,330 700,460 710,620 720,800 730,950 740,1060 750,1150 765,1090 780,1070 790,1080 800,1100 820,1160 835,1140 850,1130 870,1150 885,1165 910,1130 940,1095 975,1110 1010,1125 1050,1100 1090,1065 1115,1080 1140,1120 1170,1160 1200,1200 1215,1180 1230,1170 1250,1180 1270,1185 1300,1150 1330,1125 1370,1150 1410,1200 1440,1190 1470,1180 1500,1185 1517,1195"/>
</g>
<rect x="295" y="45" width="1222" height="1285" fill="none" stroke="#000" stroke-width="4.5"/>
<path d="M283,1200H295M283,943.75H295M283,687.5H295M283,431.25H295M283,175H295M289,1071.9H295M289,815.6H295M289,559.4H295M289,303.1H295M539.4,1330V1345M1028.2,1330V1345M1517,1330V1345M295,1330V1340M783.8,1330V1340M1272.6,1330V1340" stroke="#000" stroke-width="4"/>
<line x1="800" y1="172" x2="928" y2="172" stroke="#ff0000" stroke-width="5"/>
<line x1="800" y1="300" x2="928" y2="300" stroke="#ff8c1a" stroke-width="5"/>
<line x1="800" y1="430" x2="928" y2="430" stroke="#1fb3a6" stroke-width="5"/>
</g>
<text class="t" x="1374.6" y="1061.2">Pt foil</text>
<text class="t" x="1374.6" y="1101.3">PtTe<tspan dy="6" font-size="15">2</tspan><tspan dy="-6"> NSs</tspan></text>
<text class="t" x="1374.6" y="1142.2">PtTe<tspan dy="6" font-size="15">2</tspan><tspan dy="-6">-600 NSs</tspan></text>
<g class="t" text-anchor="end"><text x="1154.6" y="1382.8">0.0</text><text x="1154.6" y="1302.6">0.5</text><text x="1154.6" y="1222.4">1.0</text><text x="1154.6" y="1142.2">1.5</text><text x="1154.6" y="1062">2.0</text></g>
<g class="t" text-anchor="middle"><text x="1246.3" y="1447.7">2</text><text x="1399" y="1447.7">4</text><text x="1552" y="1447.7">6</text></g>
<text class="t" x="1358.9" y="1484" text-anchor="middle">R (Å)</text>
<text class="t" transform="translate(1096,1214.6) rotate(-90)" text-anchor="middle" dominant-baseline="central">|FT(<tspan font-style="italic">k</tspan><tspan dy="-9" font-size="15">3</tspan><tspan dy="9">χ(</tspan><tspan font-style="italic">k</tspan>))| (a.u.)</text>
<text class="L" x="1093" y="1024">i</text>
</svg>
</body></html>
